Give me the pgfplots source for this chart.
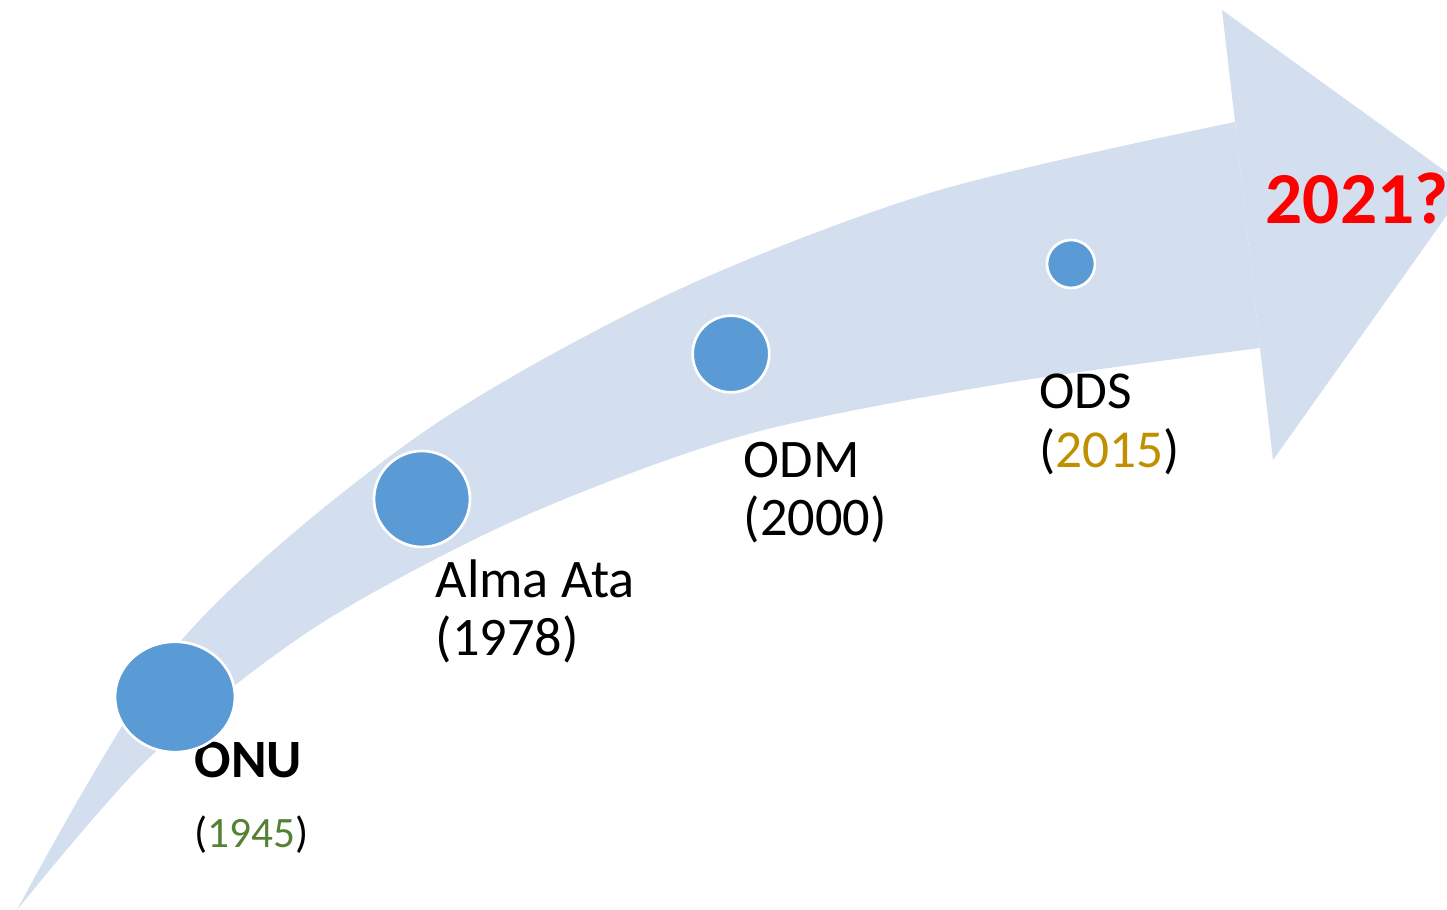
\documentclass[border=0pt]{standalone}
\usepackage{pgfplots}
\pgfplotsset{compat=1.18}
\usepgfplotslibrary{fillbetween}
\usepackage{fontspec}
\setmainfont{Carlito}
\definecolor{arrowc}{RGB}{211,222,239}
\definecolor{dotc}{RGB}{91,155,213}
\definecolor{greenc}{RGB}{84,130,53}
\definecolor{goldc}{RGB}{191,144,0}
\begin{document}
\begin{tikzpicture}
\begin{axis}[name=ax,
  scale only axis, width=434.1pt, height=273pt,
  xmin=0, xmax=1447, ymin=0, ymax=910, y dir=reverse,
  hide axis, clip=true]
% arrow body: upper and lower edges
\addplot[name path=U, draw=none, smooth] coordinates {
  (17,910) (180,642) (415,438) (667,295) (933,192) (1235,122)};
\addplot[name path=L, draw=none, smooth] coordinates {
  (17,910) (150,757) (317,626) (520,518) (745,435) (1000,384) (1260,348)};
\addplot[arrowc, draw=none] fill between[of=U and L];
% arrow head
\addplot[fill=arrowc, draw=none] coordinates {
  (1235,122) (1222,10) (1467,187) (1273,460) (1260,348)
} -- cycle;
% milestones
\addplot[only marks, mark=*, mark size=18pt, mark options={fill=dotc, draw=white, line width=0.8pt, yscale=0.92}] coordinates {(175,697)};
\addplot[only marks, mark=*, mark size=14.4pt, mark options={fill=dotc, draw=white, line width=0.8pt}] coordinates {(422,499)};
\addplot[only marks, mark=*, mark size=11.5pt, mark options={fill=dotc, draw=white, line width=0.8pt}] coordinates {(731,354)};
\addplot[only marks, mark=*, mark size=7.2pt, mark options={fill=dotc, draw=white, line width=0.8pt}] coordinates {(1071,264)};
% labels
\node[anchor=base west, inner sep=0pt, font=\fontsize{16.2}{20}\selectfont\bfseries] at (axis cs:194,778) {ONU};
\node[anchor=base west, inner sep=0pt, font=\fontsize{13}{16}\selectfont] at (axis cs:194,848) {(\textcolor{greenc}{1945})};
\node[anchor=base west, inner sep=0pt, font=\fontsize{16.3}{20}\selectfont] at (axis cs:435,598) {Alma Ata};
\node[anchor=base west, inner sep=0pt, font=\fontsize{16.3}{20}\selectfont] at (axis cs:435,656) {(1978)};
\node[anchor=base west, inner sep=0pt, font=\fontsize{16.3}{20}\selectfont] at (axis cs:743,478) {ODM};
\node[anchor=base west, inner sep=0pt, font=\fontsize{16.3}{20}\selectfont] at (axis cs:743,536) {(2000)};
\node[anchor=base west, inner sep=0pt, font=\fontsize{16}{20}\selectfont] at (axis cs:1039,409) {ODS};
\node[anchor=base west, inner sep=0pt, font=\fontsize{16}{20}\selectfont] at (axis cs:1039,468) {(\textcolor{goldc}{2015})};
\node[anchor=base west, inner sep=0pt, font=\fontsize{22}{26}\selectfont\bfseries, text=red] at (axis cs:1265,224) {2021?};
\end{axis}
\pgfresetboundingbox
\path[use as bounding box] (ax.south west) rectangle (ax.north east);
\end{tikzpicture}
\end{document}
